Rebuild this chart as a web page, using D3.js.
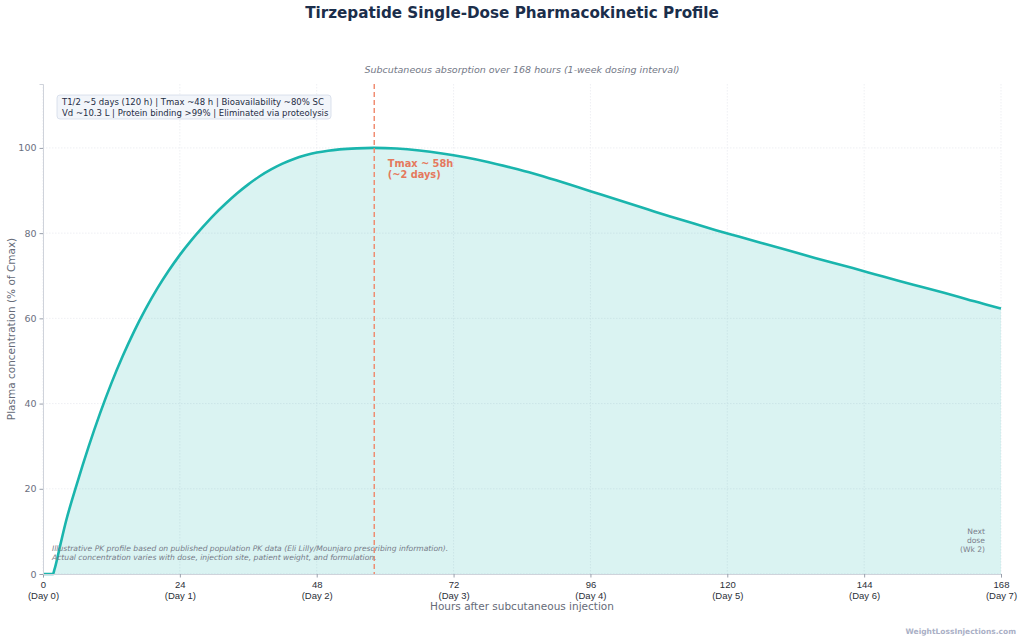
<!DOCTYPE html>
<html>
<head>
<meta charset="utf-8">
<script src="https://cdn.jsdelivr.net/npm/d3@7"></script>
<style>
  body { margin: 0; background: #fff; }
  svg { font-family: "DejaVu Sans", sans-serif; }
</style>
</head>
<body>
<div id="chart"></div>
<script>
// hours after injection and concentration (% of Cmax)
const hours = [0, 1.75, 2, 3, 4, 6, 8, 10, 12, 14, 16, 18, 20, 22, 24, 26, 28, 30, 32, 34, 36, 38, 40, 42, 44, 46, 48, 50, 52, 55, 58,
    62, 66, 70, 74, 78, 82, 86, 90, 94, 98, 102, 106, 110, 114, 118, 122, 126, 130, 134, 138, 142, 146, 150, 154, 158, 162, 166, 168];
const conc = [0, 0, 1.0, 6.6, 12.2, 21.4, 29.9, 37.7, 44.8, 51.2, 57.0, 62.2, 66.9, 71.1, 74.9, 78.3, 81.4, 84.3, 86.9, 89.3, 91.45, 93.35, 94.95, 96.3, 97.4, 98.25, 98.9, 99.35, 99.65, 99.9, 100,
    99.85, 99.4, 98.7, 97.8, 96.7, 95.4, 94.0, 92.4, 90.7, 89.0, 87.3, 85.6, 83.9, 82.3, 80.7, 79.2, 77.7, 76.2, 74.7, 73.2, 71.8, 70.3, 68.8, 67.4, 66.0, 64.5, 63.0, 62.3];
const xTicks = [0, 24, 48, 72, 96, 120, 144, 168];
const xTickDays = ["(Day 0)", "(Day 1)", "(Day 2)", "(Day 3)", "(Day 4)", "(Day 5)", "(Day 6)", "(Day 7)"];
const yTicks = [0, 20, 40, 60, 80, 100];
const tmax = 58;
const infoLines = [
    "T1/2 ~5 days (120 h) | Tmax ~48 h | Bioavailability ~80% SC",
    "Vd ~10.3 L | Protein binding >99% | Eliminated via proteolysis"
];
const noteLines = [
    "Illustrative PK profile based on published population PK data (Eli Lilly/Mounjaro prescribing information).",
    "Actual concentration varies with dose, injection site, patient weight, and formulation."
];
const nextDose = ["Next", "dose", "(Wk 2)"];

const data = hours.map((h, i) => ({ h: h, c: conc[i] }));

const W = 1024, H = 641;
const margin = { top: 84, right: 23, bottom: 67, left: 43 };
const width = W - margin.left - margin.right,
    height = H - margin.top - margin.bottom;

const svg = d3.select("#chart").append("svg")
    .attr("width", W)
    .attr("height", H);

const g = svg.append("g")
    .attr("transform", `translate(${margin.left},${margin.top})`);

const x = d3.scaleLinear().domain([0, 168]).range([0, width]);
const y = d3.scaleLinear().domain([0, 115]).range([height, 0]);

// grid
g.append("g").selectAll("line")
    .data(xTicks)
    .join("line")
    .attr("x1", d => x(d)).attr("x2", d => x(d))
    .attr("y1", 0).attr("y2", height)
    .attr("stroke", "#e6e8ee")
    .attr("stroke-width", 0.7)
    .attr("stroke-dasharray", "1.5,1.5");

g.append("g").selectAll("line")
    .data(yTicks)
    .join("line")
    .attr("x1", 0).attr("x2", width)
    .attr("y1", d => y(d)).attr("y2", d => y(d))
    .attr("stroke", "#e6e8ee")
    .attr("stroke-width", 0.7)
    .attr("stroke-dasharray", "1.5,1.5");

// filled area + line
const area = d3.area()
    .x(d => x(d.h))
    .y0(y(0))
    .y1(d => y(d.c))
    .curve(d3.curveMonotoneX);

const line = d3.line()
    .x(d => x(d.h))
    .y(d => y(d.c))
    .curve(d3.curveMonotoneX);

g.append("path")
    .datum(data)
    .attr("fill", "#1ab5ad")
    .attr("fill-opacity", 0.16)
    .attr("d", area);

g.append("path")
    .datum(data)
    .attr("fill", "none")
    .attr("stroke", "#1ab5ad")
    .attr("stroke-width", 2.6)
    .attr("d", line);

// Tmax marker
g.append("line")
    .attr("x1", x(tmax) + 0.5).attr("x2", x(tmax) + 0.5)
    .attr("y1", 0).attr("y2", height)
    .attr("stroke", "#f0866a")
    .attr("stroke-width", 1.4)
    .attr("stroke-dasharray", "5,3");

const tm = g.append("text")
    .attr("y", y(100) + 19)
    .attr("fill", "#e5795d")
    .attr("font-size", 9.8)
    .attr("font-weight", "bold");
tm.append("tspan").attr("x", x(tmax) + 14).text("Tmax ~ 58h");
tm.append("tspan").attr("x", x(tmax) + 14).attr("dy", 11.5).text("(~2 days)");

// axes
const xAxis = g.append("g")
    .attr("transform", `translate(0,${height})`)
    .call(d3.axisBottom(x).tickValues(xTicks).tickSize(3.5).tickFormat(""));
xAxis.select(".domain").attr("stroke", "#cfd3db");
xAxis.selectAll(".tick line").attr("stroke", "#9aa0ac");
xAxis.selectAll(".tick").append("text")
    .attr("fill", "#2b2f38")
    .attr("font-size", 9.5)
    .attr("text-anchor", "middle")
    .each(function (d, i) {
        const t = d3.select(this);
        t.append("tspan").attr("x", 0).attr("y", 14).text(d);
        t.append("tspan").attr("x", 0).attr("y", 25).text(xTickDays[i]);
    });

const yAxis = g.append("g")
    .call(d3.axisLeft(y).tickValues(yTicks).tickSize(3.5));
yAxis.select(".domain").attr("stroke", "#cfd3db");
yAxis.selectAll(".tick line").attr("stroke", "#9aa0ac");
yAxis.selectAll(".tick text")
    .attr("fill", "#6b7080")
    .attr("font-size", 9.5)
    .attr("font-family", "DejaVu Sans");

// info box
const info = g.append("g").attr("transform", `translate(14,11)`);
info.append("rect")
    .attr("width", 274).attr("height", 24)
    .attr("rx", 3)
    .attr("fill", "#f2f5fa")
    .attr("stroke", "#d3dbe8")
    .attr("stroke-width", 0.8);
info.append("text")
    .attr("fill", "#1f2d45")
    .attr("font-size", 8.5)
    .selectAll("tspan")
    .data(infoLines)
    .join("tspan")
    .attr("x", 5)
    .attr("y", (d, i) => 10 + i * 11)
    .text(d => d);

// footnote
g.append("text")
    .attr("fill", "#767b88")
    .attr("font-size", 7.6)
    .attr("font-style", "italic")
    .selectAll("tspan")
    .data(noteLines)
    .join("tspan")
    .attr("x", 9)
    .attr("y", (d, i) => height - 23 + i * 9)
    .text(d => d);

// next dose label
g.append("text")
    .attr("fill", "#7a7f8c")
    .attr("font-size", 7.6)
    .attr("text-anchor", "end")
    .selectAll("tspan")
    .data(nextDose)
    .join("tspan")
    .attr("x", width - 16)
    .attr("y", (d, i) => height - 40 + i * 9)
    .text(d => d);

// titles
svg.append("text")
    .attr("x", W / 2).attr("y", 18)
    .attr("text-anchor", "middle")
    .attr("fill", "#1b2e4b")
    .attr("font-size", 15.2)
    .attr("font-weight", "bold")
    .text("Tirzepatide Single-Dose Pharmacokinetic Profile");

svg.append("text")
    .attr("x", margin.left + width / 2).attr("y", 73)
    .attr("text-anchor", "middle")
    .attr("fill", "#737886")
    .attr("font-size", 9.5)
    .attr("font-style", "italic")
    .text("Subcutaneous absorption over 168 hours (1-week dosing interval)");

svg.append("text")
    .attr("x", margin.left + width / 2).attr("y", 610)
    .attr("text-anchor", "middle")
    .attr("fill", "#666b78")
    .attr("font-size", 10.5)
    .text("Hours after subcutaneous injection");

svg.append("text")
    .attr("transform", `translate(15,${margin.top + height / 2}) rotate(-90)`)
    .attr("text-anchor", "middle")
    .attr("fill", "#666b78")
    .attr("font-size", 10.5)
    .text("Plasma concentration (% of Cmax)");

svg.append("text")
    .attr("x", 1016).attr("y", 634)
    .attr("text-anchor", "end")
    .attr("fill", "#aab0c6")
    .attr("font-size", 7.5)
    .attr("font-weight", "bold")
    .text("WeightLossInjections.com");
</script>
</body>
</html>
